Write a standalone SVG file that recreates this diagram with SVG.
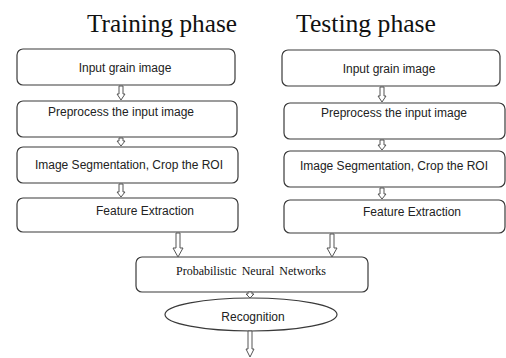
<svg xmlns="http://www.w3.org/2000/svg" width="506" height="358" viewBox="0 0 506 358">
  <defs>
    <style>
      .box { fill: #ffffff; stroke: #3a3a3a; stroke-width: 1.2; }
      .lbl { font-family: "Liberation Sans", Arial, sans-serif; font-size: 12px; fill: #222222; text-anchor: middle; }
      .ser { font-family: "Liberation Serif", "Times New Roman", serif; fill: #111111; }
      .arrow { fill: #ffffff; stroke: #555555; stroke-width: 1; stroke-linejoin: miter; }
    </style>
  </defs>
  <rect width="506" height="358" fill="#ffffff"/>

  <!-- column headings -->
  <text class="ser" x="87" y="32" font-size="25" textLength="150" lengthAdjust="spacingAndGlyphs">Training phase</text>
  <text class="ser" x="296" y="32" font-size="25" textLength="140" lengthAdjust="spacingAndGlyphs">Testing phase</text>

  <!-- training column -->
  <g id="train-input">
    <rect class="box" x="17" y="49" width="218" height="36" rx="6"/>
    <text class="lbl" x="125" y="72">Input grain image</text>
  </g>
  <g id="train-preprocess">
    <rect class="box" x="17" y="101" width="220" height="36" rx="6"/>
    <text class="lbl" x="121" y="116">Preprocess the input image</text>
  </g>
  <g id="train-segment">
    <rect class="box" x="17" y="147" width="221" height="36" rx="6"/>
    <text class="lbl" x="129" y="169">Image Segmentation, Crop the ROI</text>
  </g>
  <g id="train-feature">
    <rect class="box" x="17" y="198" width="221" height="34" rx="6"/>
    <text class="lbl" x="145" y="215">Feature Extraction</text>
  </g>

  <!-- testing column -->
  <g id="test-input">
    <rect class="box" x="282" y="50" width="218" height="36" rx="6"/>
    <text class="lbl" x="389" y="73">Input grain image</text>
  </g>
  <g id="test-preprocess">
    <rect class="box" x="284" y="103" width="221" height="36" rx="6"/>
    <text class="lbl" x="394" y="117">Preprocess the input image</text>
  </g>
  <g id="test-segment">
    <rect class="box" x="284" y="151" width="221" height="36" rx="6"/>
    <text class="lbl" x="394" y="170">Image Segmentation, Crop the ROI</text>
  </g>
  <g id="test-feature">
    <rect class="box" x="284" y="200" width="221" height="33" rx="6"/>
    <text class="lbl" x="412" y="216">Feature Extraction</text>
  </g>

  <!-- classifier and result -->
  <g id="pnn">
    <rect class="box" x="136" y="257" width="232" height="35" rx="6"/>
    <text class="ser" x="251" y="275" font-size="12" text-anchor="middle" word-spacing="2" fill="#333333">Probabilistic Neural Networks</text>
  </g>
  <g id="recognition">
    <ellipse class="box" cx="251" cy="314.5" rx="86" ry="16.5"/>
    <text class="lbl" x="253" y="321">Recognition</text>
  </g>

  <!-- hollow block arrows -->
  <g id="connectors">
    <!-- training flow -->
    <path class="arrow" d="M119,86 V94 H117 L121,100 L125,94 H123 V86 Z"/>
    <path class="arrow" d="M119,138 V141 H117 L121,146 L125,141 H123 V138 Z"/>
    <path class="arrow" d="M119,184 V192 H117 L121,197 L125,192 H123 V184 Z"/>
    <!-- testing flow -->
    <path class="arrow" d="M380,87 V96 H378 L382,102 L386,96 H384 V87 Z"/>
    <path class="arrow" d="M380,140 V145 H378 L382,150 L386,145 H384 V140 Z"/>
    <path class="arrow" d="M380,188 V194 H378 L382,199 L386,194 H384 V188 Z"/>
    <!-- feature extraction into the network -->
    <path class="arrow" d="M176,233 V248 H173 L178,257 L183,248 H180 V233 Z"/>
    <path class="arrow" d="M330,234 V248 H327 L332,257 L337,248 H334 V234 Z"/>
    <!-- network to recognition -->
    <path class="arrow" d="M248,292 V294 H246 L250,298 L254,294 H252 V292 Z"/>
    <!-- result out -->
    <path class="arrow" d="M248,331 V349 H246 L250,357 L254,349 H252 V331 Z"/>
  </g>
</svg>
